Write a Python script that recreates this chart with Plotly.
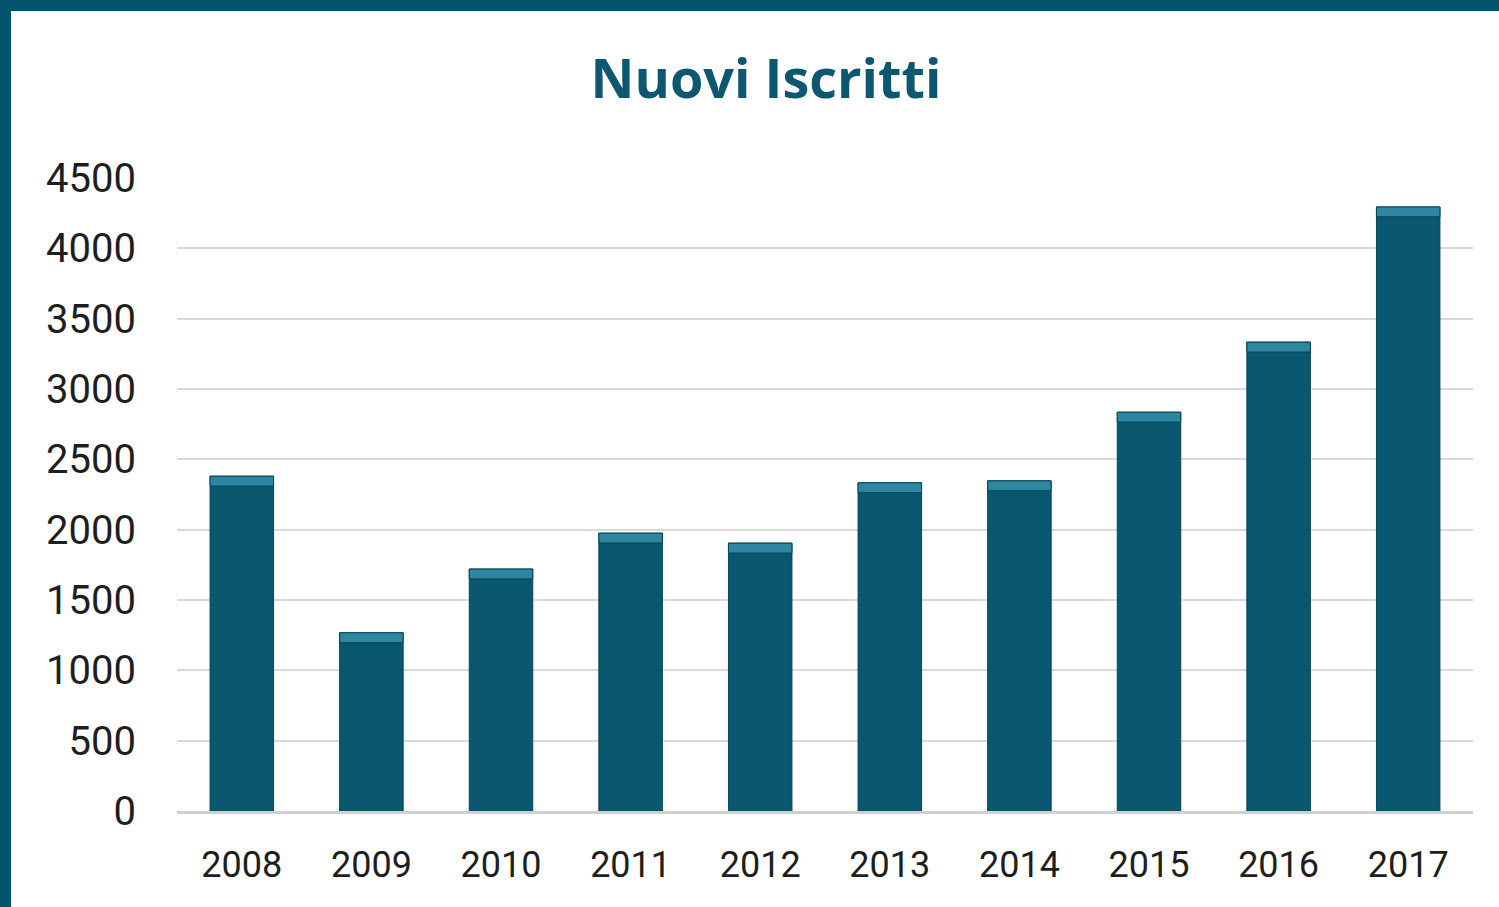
import plotly.graph_objects as go

years = ["2008", "2009", "2010", "2011", "2012", "2013", "2014", "2015", "2016", "2017"]
iscritti = [2380, 1267, 1720, 1975, 1904, 2333, 2347, 2835, 3333, 4294]
y_ticks = [0, 500, 1000, 1500, 2000, 2500, 3000, 3500, 4000, 4500]

BAR = "#0A5870"
BEVEL = "#2F86A0"
FRAME = "#02526B"
bevel_h = 70

W, H = 1499, 907
L, R, T, B = 177, 26, 178, 96
pw, ph = W - L - R, H - T - B

def px_x(p):
    return (p - L) / pw

def px_y(p):
    return (H - B - p) / ph

fig = go.Figure()
fig.add_trace(go.Bar(
    x=years, y=iscritti,
    marker=dict(color=BAR, line=dict(color="#064458", width=1)),
    hoverinfo="x+y",
))
fig.add_trace(go.Bar(
    x=years, y=[bevel_h] * len(years), base=[v - bevel_h for v in iscritti],
    marker=dict(color=BEVEL, line=dict(color="#064458", width=1)),
    hoverinfo="skip",
))

fig.update_layout(
    width=W, height=H,
    margin=dict(l=L, r=R, t=T, b=B),
    paper_bgcolor="white", plot_bgcolor="white",
    barmode="overlay", bargap=0.51, showlegend=False,
    title=dict(text="<b>Nuovi Iscritti</b>", xref="container", x=766 / W, xanchor="center",
               y=1 - 79 / H, yanchor="middle",
               font=dict(family="Open Sans", size=54, color="#0D5870")),
    font=dict(family="Roboto", color="#1E1E1E"),
    shapes=[
        dict(type="rect", xref="paper", yref="paper",
             x0=px_x(0), x1=px_x(11), y0=px_y(H), y1=px_y(0),
             fillcolor=FRAME, line=dict(width=0), layer="above"),
        dict(type="rect", xref="paper", yref="paper",
             x0=px_x(0), x1=px_x(W), y0=px_y(11), y1=px_y(0),
             fillcolor=FRAME, line=dict(width=0), layer="above"),
    ],
)
fig.update_yaxes(range=[0, 4500], tickvals=y_ticks, ticktext=[str(v) for v in y_ticks],
                 showgrid=True, gridcolor="#DADADA", gridwidth=1.5,
                 zeroline=False, showline=False,
                 tickfont=dict(family="Roboto", size=40, color="#1E1E1E"),
                 ticklabelstandoff=40)
fig.update_xaxes(showgrid=False, showline=True, linecolor="#D0D0D0", linewidth=3,
                 tickfont=dict(family="Roboto", size=36, color="#1E1E1E"),
                 ticklabelstandoff=20)

fig.write_html("out.html", config={"displayModeBar": False},
               post_script="document.body.style.margin='0';")
